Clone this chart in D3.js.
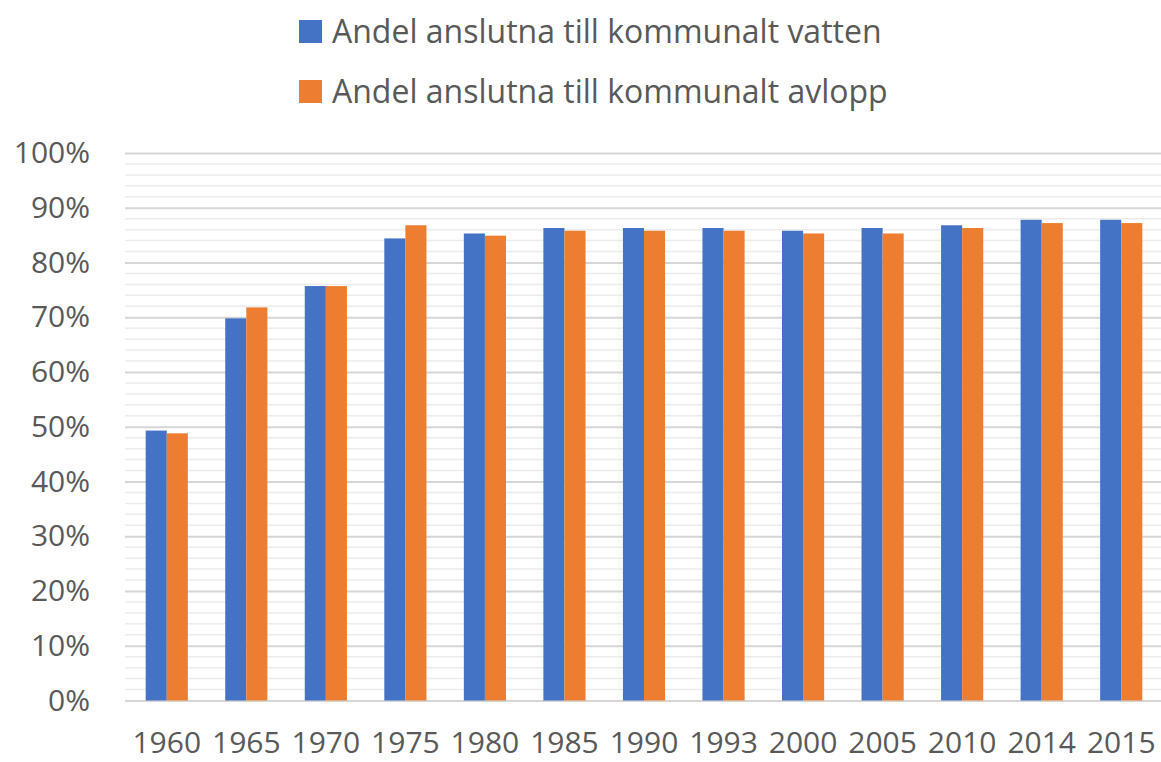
<!DOCTYPE html>
<html>
<head>
<meta charset="utf-8">
<script src="https://cdn.jsdelivr.net/npm/d3@7"></script>
<style>
  body { margin: 0; background: #fff; }
  text { font-family: 'Open Sans', sans-serif; fill: #595959; }
</style>
</head>
<body>
<div id="chart"></div>
<script>
var years = ['1960', '1965', '1970', '1975', '1980', '1985', '1990', '1993', '2000', '2005', '2010', '2014', '2015'];
var vatten = [49.3, 69.8, 75.7, 84.4, 85.3, 86.3, 86.3, 86.3, 85.8, 86.3, 86.8, 87.8, 87.8];
var avlopp = [48.8, 71.8, 75.7, 86.8, 84.9, 85.8, 85.8, 85.8, 85.3, 85.3, 86.3, 87.2, 87.2];
var seriesNames = ['Andel anslutna till kommunalt vatten', 'Andel anslutna till kommunalt avlopp'];
var colors = ['#4472c4', '#ed7d31'];
var yTicks = [0, 10, 20, 30, 40, 50, 60, 70, 80, 90, 100];

var width = 1161;
var height = 762;

var svg = d3.select('#chart').append('svg')
  .attr('width', width)
  .attr('height', height);

var x = d3.scaleBand()
  .domain(years)
  .range([127, 1161])
  .paddingInner(0.47)
  .paddingOuter(0.235);

var xSub = d3.scaleBand()
  .domain([0, 1])
  .range([0, x.bandwidth()]);

var y = d3.scaleLinear()
  .domain([0, 100])
  .range([700.5, 153]);

// minor gridlines every 2%
svg.append('g')
  .selectAll('line')
  .data(d3.range(0, 101, 2).filter(function (d) { return d % 10 !== 0; }))
  .enter().append('line')
  .attr('x1', 125)
  .attr('x2', width)
  .attr('y1', function (d) { return y(d); })
  .attr('y2', function (d) { return y(d); })
  .attr('stroke', '#ececec')
  .attr('stroke-width', 1.5);

// major gridlines + labels
var yAxis = d3.axisLeft(y)
  .tickValues(yTicks)
  .tickSize(-(width - 125))
  .tickPadding(35)
  .tickFormat(function (d) { return d + '%'; });

var gy = svg.append('g')
  .attr('transform', 'translate(125,0)')
  .call(yAxis);

gy.select('.domain').remove();
gy.selectAll('.tick line')
  .attr('stroke', '#d6d6d6')
  .attr('stroke-width', 2);
gy.selectAll('.tick text')
  .attr('font-size', 30)
  .attr('fill', '#595959')
  .style('font-family', "'Open Sans', sans-serif");

// bars
var groups = svg.append('g')
  .selectAll('g')
  .data(years)
  .enter().append('g')
  .attr('transform', function (d) { return 'translate(' + x(d) + ',0)'; });

groups.selectAll('rect')
  .data(function (d, i) { return [vatten[i], avlopp[i]]; })
  .enter().append('rect')
  .attr('x', function (d, j) { return xSub(j); })
  .attr('width', xSub.bandwidth())
  .attr('y', function (d) { return y(d); })
  .attr('height', function (d) { return y(0) - y(d); })
  .attr('fill', function (d, j) { return colors[j]; });

// x labels
var xAxis = d3.axisBottom(x)
  .tickSize(0)
  .tickPadding(0);

var gx = svg.append('g')
  .attr('transform', 'translate(0,753)')
  .call(xAxis);

gx.select('.domain').remove();
gx.selectAll('.tick text')
  .attr('y', 0)
  .attr('dy', 0)
  .attr('font-size', 30)
  .attr('fill', '#595959')
  .style('font-family', "'Open Sans', sans-serif");

// legend
var legend = svg.append('g')
  .selectAll('g')
  .data(seriesNames)
  .enter().append('g')
  .attr('transform', function (d, i) { return 'translate(299,' + (20 + i * 60) + ')'; });

legend.append('rect')
  .attr('width', 23)
  .attr('height', 23)
  .attr('fill', function (d, i) { return colors[i]; });

legend.append('text')
  .attr('x', 33)
  .attr('y', 11.5)
  .attr('dy', '0.35em')
  .attr('font-size', 32)
  .text(function (d) { return d; });
</script>
</body>
</html>
